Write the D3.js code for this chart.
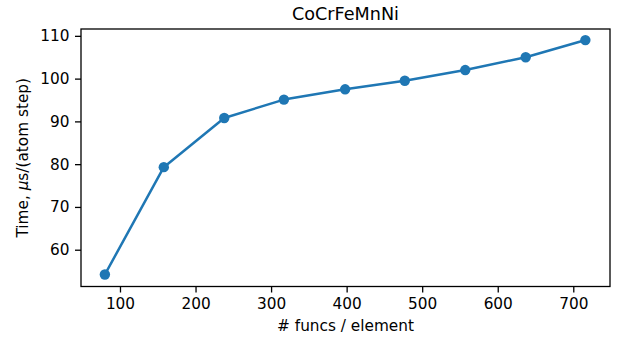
<!DOCTYPE html>
<html>
<head>
<meta charset="utf-8">
<script src="https://cdn.jsdelivr.net/npm/d3@7"></script>
<style>
  html, body { margin: 0; padding: 0; background: #fff; }
  svg { display: block; }
  text { font-family: "DejaVu Sans", sans-serif; fill: #000; }
</style>
</head>
<body>
<svg id="chart" width="618" height="339"></svg>
<script>
// Timing per atom step versus basis size
const funcsPerElement = [80, 158, 238, 317, 398, 477, 557, 637, 716];
const timeMicros = [54.2, 79.3, 90.8, 95.1, 97.5, 99.5, 102.0, 105.0, 109.0];
const xTicks = [100, 200, 300, 400, 500, 600, 700];
const yTicks = [60, 70, 80, 90, 100, 110];
const title = "CoCrFeMnNi";

const plot = { left: 81, right: 610, top: 29, bottom: 286.5 };
const blue = "#1f77b4";
const fontPx = 15.3;

const svg = d3.select("#chart");

const x = d3.scaleLinear().domain([48.4, 748.6]).range([plot.left, plot.right]);
const y = d3.scaleLinear().domain([51.4, 111.6]).range([plot.bottom, plot.top]);

// Axes
const xAxis = d3.axisBottom(x).tickValues(xTicks).tickSize(6).tickPadding(5.6).tickFormat(d3.format("d"));
const yAxis = d3.axisLeft(y).tickValues(yTicks).tickSize(6).tickPadding(5.6).tickFormat(d3.format("d"));

const gx = svg.append("g").attr("transform", `translate(0,${plot.bottom})`).call(xAxis);
const gy = svg.append("g").attr("transform", `translate(${plot.left},0)`).call(yAxis);
[gx, gy].forEach(g => {
  g.select(".domain").remove();
  g.selectAll(".tick line").attr("stroke", "#000").attr("stroke-width", 1.3);
  g.selectAll(".tick text").style("font-family", "DejaVu Sans").style("font-size", fontPx + "px").attr("fill", "#000");
});

// Series line and markers
const line = d3.line().x((d, i) => x(funcsPerElement[i])).y(d => y(d));
svg.append("path")
  .datum(timeMicros)
  .attr("d", line)
  .attr("fill", "none").attr("stroke", blue).attr("stroke-width", 2.5)
  .attr("stroke-linejoin", "round").attr("stroke-linecap", "square");

svg.append("g").selectAll("circle")
  .data(timeMicros)
  .join("circle")
  .attr("cx", (d, i) => x(funcsPerElement[i]))
  .attr("cy", d => y(d))
  .attr("r", 5.2)
  .attr("fill", blue);

// Frame
svg.append("rect")
  .attr("x", plot.left).attr("y", plot.top)
  .attr("width", plot.right - plot.left).attr("height", plot.bottom - plot.top)
  .attr("fill", "none").attr("stroke", "#000").attr("stroke-width", 1.3);

// Title
svg.append("text")
  .attr("x", (plot.left + plot.right) / 2).attr("y", 19.5)
  .attr("text-anchor", "middle").style("font-size", "17.6px")
  .text(title);

// Axis labels
svg.append("text")
  .attr("x", (plot.left + plot.right) / 2).attr("y", 331)
  .attr("text-anchor", "middle").style("font-size", fontPx + "px")
  .text("# funcs / element");

const yl = svg.append("text")
  .attr("transform", `translate(27.5,${(plot.top + plot.bottom) / 2}) rotate(-90)`)
  .attr("text-anchor", "middle").style("font-size", fontPx + "px");
yl.append("tspan").text("Time, ");
yl.append("tspan").style("font-style", "italic").text("μ");
yl.append("tspan").text("s/(atom step)");
</script>
</body>
</html>
